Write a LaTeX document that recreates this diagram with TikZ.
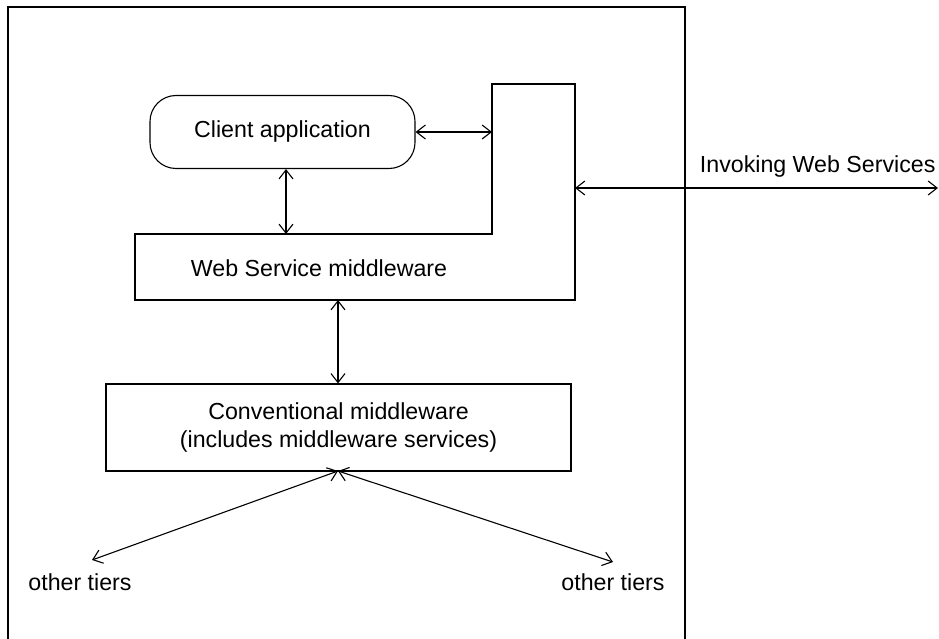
\documentclass[tikz,border=0pt]{standalone}
\usepackage{fontspec}
\setmainfont{Liberation Sans}
\usetikzlibrary{arrows.meta}
\begin{document}
\begin{tikzpicture}[x=1pt,y=-1pt,
  line width=1.1pt,
  every node/.style={font=\fontsize{23.2}{28}\selectfont, inner sep=0pt},
  dbl/.style={{Straight Barb[length=9pt,width=14pt]}-{Straight Barb[length=9pt,width=14pt]}},
  box/.style={draw}]
\useasboundingbox (0,0) rectangle (939,639);
% outer frame
\draw (8,660) -- (8,7) -- (685,7) -- (685,660);
% client application
\node[draw, rounded corners=26pt, minimum width=265pt, minimum height=73pt] (client) at (282.5,132) {Client application};
% Web service middleware L-shape
\draw (492,234) -- (492,84) -- (575,84) -- (575,300) -- (135,300) -- (135,234) -- cycle;
\node (wsm) at (319,268) {Web Service middleware};
\coordinate (tower) at (492,132);
\coordinate (wsmtop) at (286,234);
\coordinate (wsmbot) at (338,300);
\coordinate (wsmright) at (575,188);
\coordinate (ext) at (938,188);
\node[anchor=base east] (inv) at (936,173) {Invoking Web Services};
% conventional middleware
\node[draw, minimum width=465pt, minimum height=87pt, align=center] (conv) at (338.5,427.5) {Conventional middleware\\(includes middleware services)};
\coordinate (convbot) at (338,471);
\coordinate (lt) at (92,560);
\coordinate (rt) at (613,562);
\node (ot1) at (80,582) {other tiers};
\node (ot2) at (613,582) {other tiers};
% connectors
\draw[dbl] (client.east |- tower) -- (tower);
\draw[dbl] (client.south -| wsmtop) -- (wsmtop);
\draw[dbl] (wsmbot) -- (conv.north -| wsmbot);
\draw[dbl] (wsmright) -- (ext);
\draw[dbl] (convbot) -- (lt);
\draw[dbl] (convbot) -- (rt);
\end{tikzpicture}
\end{document}
